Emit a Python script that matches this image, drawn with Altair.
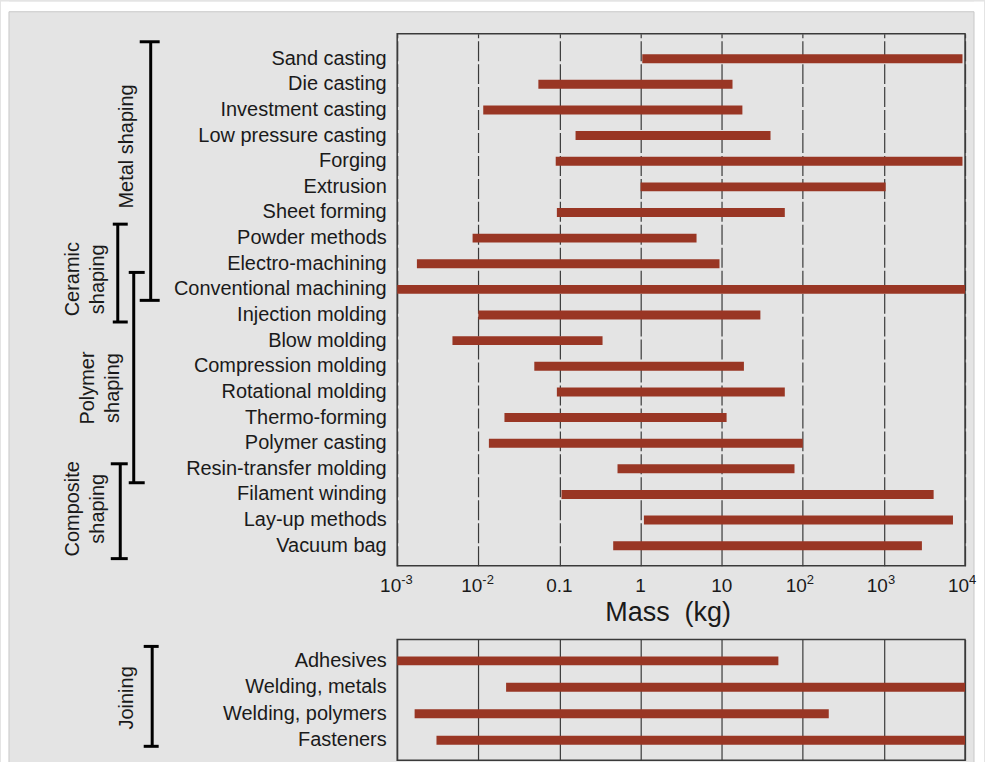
import altair as alt
import pandas as pd

# Shaping processes (top panel), listed top to bottom, with mass range in kg
PROCESSES = [
    "Sand casting", "Die casting", "Investment casting", "Low pressure casting",
    "Forging", "Extrusion", "Sheet forming", "Powder methods", "Electro-machining",
    "Conventional machining", "Injection molding", "Blow molding",
    "Compression molding", "Rotational molding", "Thermo-forming",
    "Polymer casting", "Resin-transfer molding", "Filament winding",
    "Lay-up methods", "Vacuum bag",
]
MASS_MIN = [1.05, 0.055, 0.0115, 0.158, 0.09, 1.0, 0.093, 0.0085, 0.00175, 0.001,
            0.01, 0.0048, 0.049, 0.093, 0.021, 0.0135, 0.52, 0.106, 1.1, 0.46]
MASS_MAX = [9300, 13.6, 18, 40, 9300, 1050, 60, 4.9, 9.4, 10000,
            30, 0.34, 18.8, 60, 11.5, 100, 79, 4100, 7100, 2940]

# Joining processes (bottom panel)
JOINING = ["Adhesives", "Welding, metals", "Welding, polymers", "Fasteners"]
JOIN_MIN = [0.001, 0.022, 0.00164, 0.00305]
JOIN_MAX = [50, 10000, 209, 10000]

# Mass axis ticks: label base and superscript exponent
TICK_VALUES = [0.001, 0.01, 0.1, 1, 10, 100, 1000, 10000]
TICK_BASE = ["10", "10", "0.1", "1", "10", "10", "10", "10"]
TICK_EXP = ["-3", "-2", "", "", "", "2", "3", "4"]

# Process families bracketed on the left
GROUP_TEXT = ["Metal shaping", "Ceramic\nshaping", "Polymer\nshaping", "Composite\nshaping"]
GROUP_FIRST = ["Sand casting", "Powder methods", "Conventional machining", "Resin-transfer molding"]
GROUP_LAST = ["Conventional machining", "Injection molding", "Resin-transfer molding", "Vacuum bag"]
JOIN_TEXT = "Joining"

# ---- styling -------------------------------------------------------------
BAR_COLOR = "#993624"
INK = "#1a1a1a"
LINE = "#3a3a3a"
FONT = "Liberation Sans"
W = 569
H_TOP = 533
H_BOT = 121

# bracket layout: vertical line x, cap extent, end offsets, label anchor
BRACKET_STYLE = [
    dict(x=-247, c0=-258, c1=-238, o0=-17, o1=11, lx=-271, ly=113),
    dict(x=-280, c0=-285, c1=-270, o0=-14, o1=7, lx=-325, ly=246),
    dict(x=-264, c0=-269, c1=-253, o0=-17, o1=14, lx=-310, ly=355),
    dict(x=-277.5, c0=-287, c1=-270, o0=-5, o1=13, lx=-325, ly=476),
]
JOIN_STYLE = dict(x=-245.5, c0=-254, c1=-239, o0=-14.5, o1=6, lx=-271, ly=58.5)

x_scale = alt.Scale(type="log", domain=[TICK_VALUES[0], TICK_VALUES[-1]], nice=False)

top_y_scale = alt.Scale(domain=PROCESSES, paddingInner=0, paddingOuter=0.378, align=0.63)
bot_y_scale = alt.Scale(domain=JOINING, paddingInner=0, paddingOuter=0.28, align=0.55)

y_axis = alt.Axis(title=None, ticks=False, domain=False, labelPadding=11,
                  labelFontSize=20, labelColor=INK, labelFont=FONT, labelLimit=400)

top_x_axis = alt.Axis(
    values=TICK_VALUES, grid=True, gridDash=[20, 3],
    gridColor=LINE, gridWidth=1.2, gridOpacity=1, ticks=False, domain=False,
    labels=False,
    title="Mass\u00a0\u00a0(kg)", titleFontSize=27, titleFontWeight="normal",
    titleColor=INK, titleFont=FONT, titleX=271, titleY=55, titleAlign="center",
    titleBaseline="alphabetic",
)
bot_x_axis = alt.Axis(
    values=TICK_VALUES, grid=True, gridColor=LINE, gridWidth=1.2, gridOpacity=1,
    ticks=False, domain=False, labels=False, title=None,
)

top_df = pd.DataFrame({"process": PROCESSES, "lo": MASS_MIN, "hi": MASS_MAX})
bot_df = pd.DataFrame({"process": JOINING, "lo": JOIN_MIN, "hi": JOIN_MAX})
tick_df = pd.DataFrame({"value": TICK_VALUES, "base": TICK_BASE, "exp": TICK_EXP})
one = pd.DataFrame({"k": [0]})


def bars(df, y_scale, x_axis):
    return alt.Chart(df).mark_bar(color=BAR_COLOR, size=9).encode(
        x=alt.X("lo:Q", scale=x_scale, axis=x_axis),
        x2="hi:Q",
        y=alt.Y("process:N", scale=y_scale, axis=y_axis, sort=None),
    )


def bracket(first, last, text, st, y_scale):
    d = pd.DataFrame({"first": [first], "last": [last]})
    yf = alt.Y("first:N", scale=y_scale, sort=None)
    yl = alt.Y("last:N", scale=y_scale, sort=None)
    stem = alt.Chart(d).mark_rule(color="black", strokeWidth=3,
                                  yOffset=st["o0"], y2Offset=st["o1"]).encode(
        x=alt.value(st["x"]), y=yf, y2="last:N")
    cap_top = alt.Chart(d).mark_rule(color="black", strokeWidth=3, yOffset=st["o0"]).encode(
        x=alt.value(st["c0"]), x2=alt.value(st["c1"]), y=yf)
    cap_bot = alt.Chart(d).mark_rule(color="black", strokeWidth=3, yOffset=st["o1"]).encode(
        x=alt.value(st["c0"]), x2=alt.value(st["c1"]), y=yl)
    label = alt.Chart(one).mark_text(
        angle=270, align="center", baseline="middle", fontSize=20, font=FONT,
        color=INK, lineBreak="\n", lineHeight=25,
    ).encode(x=alt.value(st["lx"]), y=alt.value(st["ly"]), text=alt.value(text))
    return [stem, cap_top, cap_bot, label]


# white page margins around the grey panel; they also fix the canvas extent
PAGE_BOTTOM = 730
margin = alt.Chart(one).mark_rect(color="white")
edges = [
    margin.encode(x=alt.value(-397), x2=alt.value(W + 19), y=alt.value(-32), y2=alt.value(-22)),
    margin.encode(x=alt.value(-397), x2=alt.value(-389), y=alt.value(-32), y2=alt.value(PAGE_BOTTOM)),
    margin.encode(x=alt.value(578), x2=alt.value(W + 19), y=alt.value(-32), y2=alt.value(PAGE_BOTTOM)),
]
frame = alt.Chart(one).mark_rect(fillOpacity=0, stroke="#c8c8c8", strokeWidth=1).encode(
    x=alt.value(-389), x2=alt.value(578), y=alt.value(-22), y2=alt.value(PAGE_BOTTOM + 5))

# mass tick labels, drawn above the page margins; powers of ten get a raised exponent
label_base = alt.Chart(tick_df).encode(
    x=alt.X("value:Q", scale=x_scale), y=alt.value(H_TOP + 26), text="base:N")
plain_labels = label_base.mark_text(
    fontSize=19, font=FONT, color=INK, align="center", baseline="alphabetic",
).transform_filter("datum.exp == ''")
power_labels = label_base.mark_text(
    fontSize=19, font=FONT, color=INK, align="right", baseline="alphabetic", dx=4,
).transform_filter("datum.exp != ''")
exponents = alt.Chart(tick_df).mark_text(
    fontSize=13, font=FONT, color=INK, align="left", baseline="alphabetic", dx=4,
).encode(
    x=alt.X("value:Q", scale=x_scale), y=alt.value(H_TOP + 18), text="exp:N",
).transform_filter("datum.exp != ''")

top_layers = edges + [frame, bars(top_df, top_y_scale, top_x_axis)]
for f, l, t, st in zip(GROUP_FIRST, GROUP_LAST, GROUP_TEXT, BRACKET_STYLE):
    top_layers += bracket(f, l, t, st, top_y_scale)
top_layers += [plain_labels, power_labels, exponents]

top = alt.layer(*top_layers).properties(width=W, height=H_TOP)

bot_layers = [bars(bot_df, bot_y_scale, bot_x_axis)]
bot_layers += bracket(JOINING[0], JOINING[-1], JOIN_TEXT, JOIN_STYLE, bot_y_scale)
bottom = alt.layer(*bot_layers).properties(width=W, height=H_BOT)

chart = alt.vconcat(top, bottom, spacing=74, bounds="flush").properties(
    padding=0,
    background="#e4e4e4",
).configure_view(stroke=LINE, strokeWidth=1.5)

chart.save("out.html", embed_options={"renderer": "svg", "actions": False})
